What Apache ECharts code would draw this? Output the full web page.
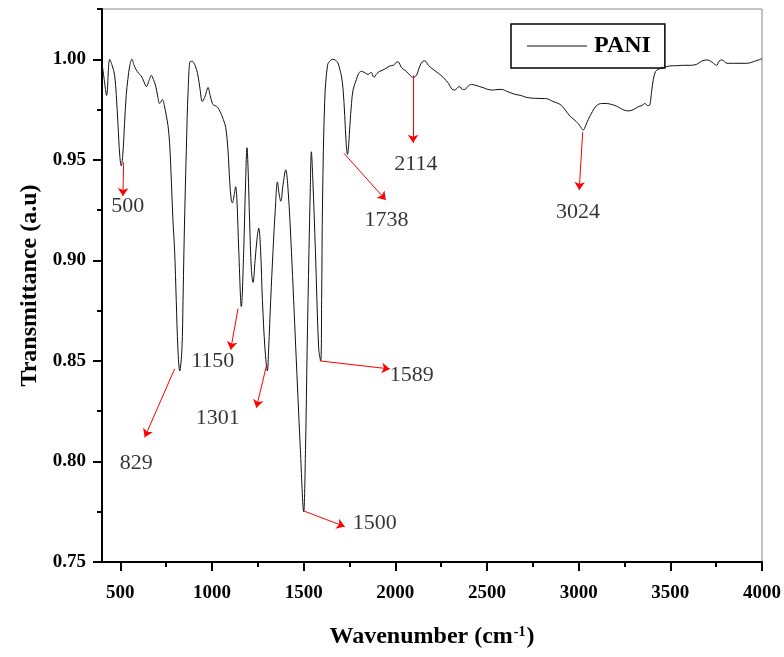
<!DOCTYPE html>
<html>
<head>
<meta charset="utf-8">
<title>PANI FTIR</title>
<script src="https://cdn.jsdelivr.net/npm/echarts@6.0.0/dist/echarts.min.js"></script>
<style>
  html, body { margin: 0; padding: 0; background: #fff; }
  #chart { width: 784px; height: 657px; }
</style>
</head>
<body>
<div id="chart"></div>
<script>
// FTIR spectrum of PANI
const wavenumber = [
  400, 412, 425, 442, 455, 469, 478, 487, 497, 505, 513, 523, 532, 541, 552, 563,
  575, 587, 600, 614, 628, 642, 655, 669, 680, 693, 705, 714, 722, 729, 740, 751,
  760, 769, 778, 787, 796, 805, 814, 824, 836, 842, 847, 853, 860, 870, 882, 893,
  905, 915, 924, 935, 947, 960, 970, 978, 990, 1002, 1012, 1024, 1038, 1051, 1062, 1075,
  1087, 1097, 1105, 1111, 1120, 1129, 1136, 1146, 1160, 1173, 1182, 1191, 1197, 1205, 1215, 1224,
  1235, 1247, 1255, 1265, 1275, 1289, 1302, 1309, 1320, 1333, 1345, 1357, 1366, 1375, 1388, 1402,
  1415, 1433, 1457, 1482, 1500, 1510, 1519, 1529, 1536, 1542, 1550, 1564, 1582, 1593, 1598, 1603,
  1615, 1630, 1642, 1660, 1675, 1688, 1697, 1706, 1715, 1724, 1732, 1739, 1746, 1752, 1761, 1770,
  1788, 1800, 1815, 1830, 1851, 1868, 1883, 1900, 1915, 1940, 1970, 1990, 2005, 2015, 2034, 2060,
  2080, 2097, 2115, 2135, 2150, 2161, 2180, 2206, 2235, 2261, 2290, 2310, 2325, 2340, 2352, 2365,
  2379, 2395, 2416, 2440, 2461, 2479, 2505, 2534, 2560, 2580, 2610, 2652, 2685, 2716, 2760, 2800,
  2825, 2860, 2898, 2925, 2952, 2975, 2998, 3013, 3025, 3038, 3052, 3075, 3098, 3125, 3153, 3180,
  3207, 3240, 3271, 3300, 3325, 3345, 3362, 3375, 3385, 3398, 3407, 3420, 3434, 3462, 3498, 3535,
  3571, 3610, 3644, 3670, 3699, 3720, 3735, 3753, 3765, 3780, 3810, 3844, 3880, 3917, 3960, 4000
];
const transmittance = [
  0.998, 0.990, 0.982, 1.000, 0.997, 0.992, 0.982, 0.968, 0.952, 0.947, 0.952, 0.968, 0.982, 0.990, 0.997, 1.000,
  0.997, 0.9947, 0.993, 0.9917, 0.989, 0.9864, 0.989, 0.992, 0.990, 0.9867, 0.981, 0.978, 0.979, 0.980, 0.977, 0.9718,
  0.967, 0.958, 0.940, 0.920, 0.905, 0.880, 0.856, 0.845, 0.856, 0.880, 0.905, 0.930, 0.955, 0.985, 0.999, 0.999,
  0.9975, 0.995, 0.9917, 0.985, 0.979, 0.981, 0.984, 0.986, 0.982, 0.978, 0.977, 0.9767, 0.975, 0.9726, 0.970, 0.966,
  0.955, 0.9386, 0.930, 0.9286, 0.932, 0.9366, 0.930, 0.905, 0.877, 0.905, 0.935, 0.956, 0.945, 0.920, 0.895, 0.889,
  0.900, 0.912, 0.916, 0.905, 0.880, 0.856, 0.845, 0.856, 0.880, 0.905, 0.925, 0.939, 0.933, 0.9294, 0.938, 0.945,
  0.935, 0.905, 0.856, 0.806, 0.775, 0.806, 0.856, 0.905, 0.935, 0.954, 0.940, 0.905, 0.856, 0.850, 0.880, 0.930,
  0.980, 0.997, 0.999, 1.000, 0.9995, 0.998, 0.995, 0.9917, 0.985, 0.972, 0.958, 0.9527, 0.958, 0.967, 0.978, 0.985,
  0.990, 0.993, 0.994, 0.9935, 0.9925, 0.9935, 0.991, 0.993, 0.994, 0.995, 0.9967, 0.997, 0.9985, 0.9987, 0.9958, 0.994,
  0.992, 0.991, 0.992, 0.997, 0.999, 0.9992, 0.997, 0.995, 0.993, 0.991, 0.988, 0.985, 0.9847, 0.986, 0.9864, 0.985,
  0.985, 0.9865, 0.9875, 0.987, 0.9864, 0.9859, 0.985, 0.9847, 0.985, 0.985, 0.984, 0.9826, 0.982, 0.981, 0.9806, 0.9805,
  0.9804, 0.979, 0.9776, 0.975, 0.9718, 0.970, 0.968, 0.966, 0.9648, 0.967, 0.970, 0.974, 0.977, 0.978, 0.978, 0.9775,
  0.9767, 0.975, 0.9743, 0.975, 0.9764, 0.977, 0.978, 0.977, 0.977, 0.984, 0.990, 0.994, 0.995, 0.9958, 0.9967, 0.9968,
  0.997, 0.997, 0.9975, 0.999, 0.9997, 0.999, 0.998, 0.997, 0.999, 0.9997, 0.998, 0.998, 0.998, 0.998, 0.999, 1.0003
];

const xTicks = [500, 1000, 1500, 2000, 2500, 3000, 3500, 4000];
const xMinorTicks = [750, 1250, 1750, 2250, 2750, 3250, 3750];
const yTicks = [0.75, 0.80, 0.85, 0.90, 0.95, 1.00];
const yMinorTicks = [0.775, 0.825, 0.875, 0.925, 0.975, 1.025];

// peak annotations (cm-1, T): arrow tail, arrow head, text centre
const peakLabels = ['500', '829', '1150', '1301', '1500', '1589', '1738', '2114', '3024'];
const arrowTail = [[518, 0.9487], [796, 0.846], [1142, 0.876], [1297, 0.8476], [1500, 0.7754],
  [1588, 0.850], [1720, 0.9532], [2097, 0.992], [3022, 0.9638]];
const arrowHead = [[514, 0.932], [633, 0.812], [1102, 0.8556], [1242, 0.8267], [1724, 0.7676],
  [1970, 0.846], [1948, 0.930], [2097, 0.9585], [3003, 0.935]];
const labelPos = [[540, 0.927], [587, 0.799], [1004, 0.8496], [1031, 0.8217], [1888, 0.7694],
  [2090, 0.843], [1952, 0.920], [2112, 0.9477], [2996, 0.924]];

const serif = "'Liberation Serif', 'Times New Roman', serif";
const spectrum = wavenumber.map((w, i) => [w, transmittance[i]]);

const chart = echarts.init(document.getElementById('chart'));

const option = {
  animation: false,
  backgroundColor: '#fff',
  grid: [
    { left: 102, right: 22, top: 9, bottom: 95, show: true, borderColor: '#888', borderWidth: 1, outerBoundsMode: 'none' },
    // same box again, only carries the minor ticks
    { left: 102, right: 22, top: 9, bottom: 95, outerBoundsMode: 'none' }
  ],
  legend: {
    data: [{ name: 'PANI', icon: 'rect' }],
    left: 511,
    top: 24,
    padding: [10, 14, 10, 16],
    borderColor: '#000',
    borderWidth: 1.5,
    itemWidth: 60,
    itemHeight: 1,
    itemStyle: { color: '#111' },
    textStyle: { fontFamily: serif, fontWeight: 'bold', fontSize: 24, color: '#000', padding: [0, 0, 0, 2] }
  },
  xAxis: [
    {
      type: 'value', gridIndex: 0, min: 400, max: 4000,
      name: 'Wavenumber (cm{sup|-1})',
      nameLocation: 'middle',
      nameGap: 63,
      nameTextStyle: {
        fontFamily: serif, fontWeight: 'bold', fontSize: 24, color: '#000',
        rich: { sup: { fontFamily: serif, fontWeight: 'bold', fontSize: 14, color: '#000', verticalAlign: 'top', padding: [0, 1, 8, 1] } }
      },
      axisLine: { lineStyle: { color: '#000', width: 2 } },
      axisTick: { customValues: xTicks, length: 9, lineStyle: { color: '#000', width: 2 } },
      axisLabel: {
        customValues: xTicks, margin: 22, fontFamily: serif, fontWeight: 'bold', fontSize: 19, color: '#000',
        formatter: v => String(v)
      },
      splitLine: { show: false }
    },
    {
      type: 'value', gridIndex: 1, min: 400, max: 4000,
      axisLine: { show: false },
      axisTick: { customValues: xMinorTicks, length: 5, lineStyle: { color: '#000', width: 2 } },
      axisLabel: { show: false },
      splitLine: { show: false }
    }
  ],
  yAxis: [
    {
      type: 'value', gridIndex: 0, min: 0.75, max: 1.025,
      name: 'Transmittance (a.u)',
      nameLocation: 'middle',
      nameGap: 60,
      nameTextStyle: { fontFamily: serif, fontWeight: 'bold', fontSize: 24, color: '#000' },
      axisLine: { show: true, lineStyle: { color: '#000', width: 2 } },
      axisTick: { show: true, customValues: yTicks, length: 9, lineStyle: { color: '#000', width: 2 } },
      axisLabel: {
        customValues: yTicks, margin: 16, fontFamily: serif, fontWeight: 'bold', fontSize: 19, color: '#000',
        formatter: v => v.toFixed(2)
      },
      splitLine: { show: false }
    },
    {
      type: 'value', gridIndex: 1, min: 0.75, max: 1.025,
      axisLine: { show: false },
      axisTick: { show: true, customValues: yMinorTicks, length: 5, lineStyle: { color: '#000', width: 2 } },
      axisLabel: { show: false },
      splitLine: { show: false }
    }
  ],
  series: [
    {
      name: 'PANI',
      type: 'line',
      xAxisIndex: 0,
      yAxisIndex: 0,
      data: spectrum,
      symbol: 'none',
      smooth: 0.35,
      lineStyle: { color: '#111', width: 1 },
      itemStyle: { color: '#111' },
      silent: true
    },
    {
      name: 'peaks',
      type: 'scatter',
      xAxisIndex: 0,
      yAxisIndex: 0,
      symbolSize: 0,
      silent: true,
      data: labelPos.map((p, i) => ({ value: p, name: peakLabels[i] })),
      label: {
        show: true, position: 'inside', formatter: '{b}',
        fontFamily: serif, fontSize: 22, color: '#000'
      },
      markLine: {
        silent: true,
        symbol: ['none', 'arrow'],
        symbolSize: 8,
        label: { show: false },
        lineStyle: { color: '#ff0000', width: 1, type: 'solid' },
        data: arrowTail.map((t, i) => [{ coord: t }, { coord: arrowHead[i] }])
      }
    },
    {
      // keeps the minor-tick grid alive
      type: 'line', xAxisIndex: 1, yAxisIndex: 1, data: [], silent: true
    }
  ]
};

chart.setOption(option);
</script>
</body>
</html>
